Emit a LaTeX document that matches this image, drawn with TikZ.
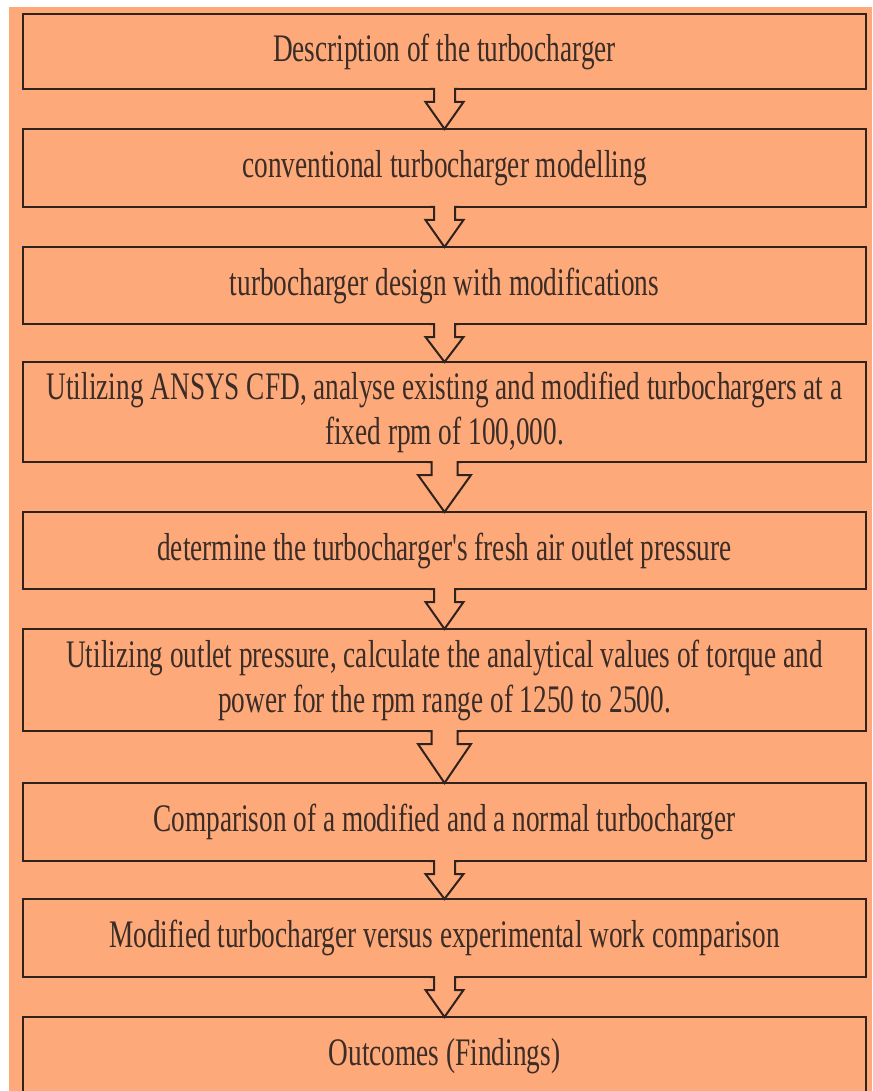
\documentclass[tikz,border=0pt]{standalone}
\usepackage{fontspec}
\setmainfont{Liberation Serif}[FakeStretch=0.70, Ligatures=TeXOff]
\usetikzlibrary{calc}
\definecolor{bgorange}{RGB}{253,169,122}
\definecolor{edge}{RGB}{48,34,28}
\definecolor{ink}{RGB}{58,44,38}
\tikzset{
  stagebox/.style={draw=edge, fill=bgorange, line width=2pt, outer sep=0pt,
    minimum width=843pt, align=center, text=ink, inner sep=0pt,
    font=\fontsize{39}{45}\selectfont},
  arrowline/.style={draw=edge, line width=2pt, line join=miter},
}
% #1 from node, #2 to node, #3 shaft half width, #4 wing half width
\newcommand\blkarrow[4]{%
  \fill[bgorange] let \p1=(#1.south), \p2=(#2.north) in
    (\x1-#3,\y1+1.5pt) -- (\x1-#3,\y1-13pt) -- (\x1-#4,\y1-13pt) -- (\x1,\y2)
    -- (\x1+#4,\y1-13pt) -- (\x1+#3,\y1-13pt) -- (\x1+#3,\y1+1.5pt) -- cycle;
  \draw[arrowline] let \p1=(#1.south), \p2=(#2.north) in
    (\x1-#3-4pt,\y1) -- (\x1-#3,\y1) -- (\x1-#3,\y1-13pt) -- (\x1-#4,\y1-13pt) -- (\x1,\y2)
    -- (\x1+#4,\y1-13pt) -- (\x1+#3,\y1-13pt) -- (\x1+#3,\y1) -- (\x1+#3+4pt,\y1);
}
\begin{document}
\begin{tikzpicture}[x=1pt,y=-1pt]
\useasboundingbox (0,0) rectangle (872,1091);
\clip (0,0) rectangle (872,1091);
\fill[white] (0,0) rectangle (872,1091);
\fill[bgorange] (9,7) rectangle (872,1091);

\node[stagebox, minimum height=75pt] (b1) at (444.5,51.5) {Description of the turbocharger};
\node[stagebox, minimum height=78pt] (b2) at (444.5,168) {conventional turbocharger modelling};
\node[stagebox, minimum height=77pt] (b3) at (444.5,285.5) {turbocharger design with modifications};
\node[stagebox, minimum height=100pt] (b4) at (444.5,412) {Utilizing ANSYS CFD, analyse existing and modified turbochargers at a\\fixed rpm of 100,000.};
\node[stagebox, minimum height=77pt] (b5) at (444.5,550.5) {determine the turbocharger's fresh air outlet pressure};
\node[stagebox, minimum height=102pt] (b6) at (444.5,680) {Utilizing outlet pressure, calculate the analytical values of torque and\\power for the rpm range of 1250 to 2500.};
\node[stagebox, minimum height=78pt] (b7) at (444.5,822) {Comparison of a modified and a normal turbocharger};
\node[stagebox, minimum height=78pt] (b8) at (444.5,938) {Modified turbocharger versus experimental work comparison};
\node[stagebox, minimum height=78pt] (b9) at (444.5,1056) {Outcomes (Findings)};

\blkarrow{b1}{b2}{10.5pt}{19pt}
\blkarrow{b2}{b3}{10.5pt}{19pt}
\blkarrow{b3}{b4}{10.5pt}{19pt}
\blkarrow{b4}{b5}{13pt}{26.5pt}
\blkarrow{b5}{b6}{10.5pt}{19pt}
\blkarrow{b6}{b7}{13pt}{26.5pt}
\blkarrow{b7}{b8}{10.5pt}{19pt}
\blkarrow{b8}{b9}{10.5pt}{19pt}
\end{tikzpicture}
\end{document}
